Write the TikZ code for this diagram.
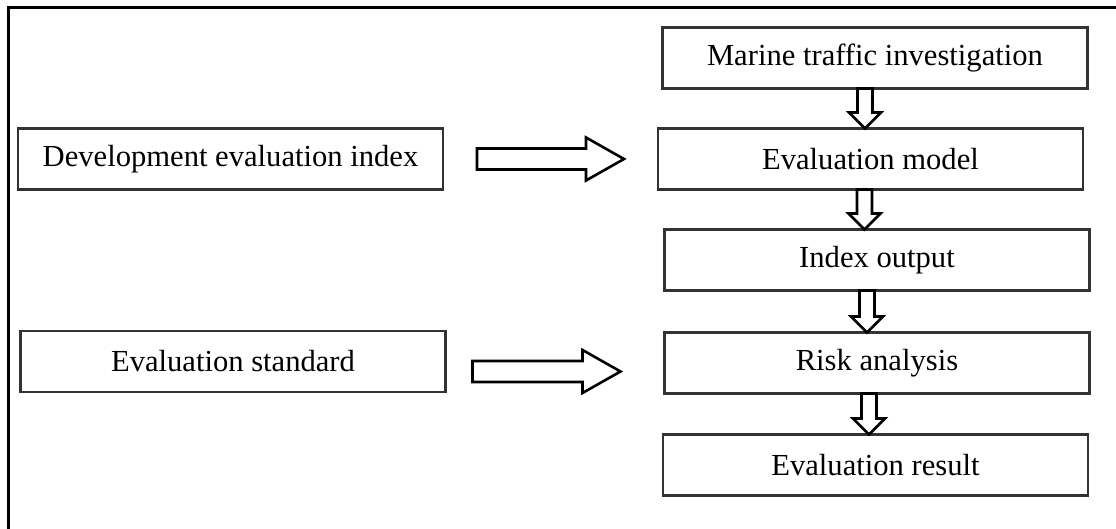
\documentclass[tikz,border=0pt]{standalone}
\usepackage{fontspec}
\setmainfont{Liberation Serif}
\usetikzlibrary{positioning,calc}

\tikzset{
	box/.style={draw=black!80, line width=1.35pt, minimum width=212.5pt, minimum height=30.5pt,
		inner sep=0pt, outer sep=0pt, font=\fontsize{15.3}{18}\selectfont},
	% 横向空心箭头
	hfat/.style={line width=1.3pt, to path={let \p1=(\tikztostart), \p2=(\tikztotarget) in
		(\x1,\y1+5.25pt) -- (\x2-19pt,\y1+5.25pt) -- (\x2-19pt,\y1+10.75pt) -- (\x2,\y1)
		-- (\x2-19pt,\y1-10.75pt) -- (\x2-19pt,\y1-5.25pt) -- (\x1,\y1-5.25pt) -- cycle}},
	% 纵向空心箭头
	vfat/.style={line width=1.3pt, to path={let \p1=(\tikztostart), \p2=(\tikztotarget) in
		(\x1-3.75pt,\y1) -- (\x1-3.75pt,\y2+8pt) -- (\x1-8pt,\y2+8pt) -- (\x1,\y2)
		-- (\x1+8pt,\y2+8pt) -- (\x1+3.75pt,\y2+8pt) -- (\x1+3.75pt,\y1) -- cycle}},
}

\begin{document}
\begin{tikzpicture}[x=0.5pt,y=-0.5pt]
	\useasboundingbox (0,0) rectangle (1116,529);
	% 外框
	\draw[line width=1.35pt] (8.7,540) -- (8.7,7.5) -- (1130,7.5);
	%% left
	\node[box] (dev) at (230.5,159) {Development evaluation index};
	\node[box] (std) at (233,361.5) {Evaluation standard};
	%% right
	\node[box, right=107.5pt of dev] (model) {Evaluation model};
	\node[box, above=20pt of model, xshift=2.25pt] (marine) {Marine traffic investigation};
	\node[box, below=20pt of model, xshift=3.25pt] (index) {Index output};
	\node[box, below=21pt of index] (risk) {Risk analysis};
	\node[box, below=20.5pt of risk, xshift=-0.75pt] (result) {Evaluation result};
	% 箭头连线
	\draw[hfat] ([xshift=17pt]dev.east) to ([xshift=-17pt]model.west);
	\draw[hfat] ([xshift=13.5pt,yshift=-5pt]std.east) to ([xshift=-22pt,yshift=-5pt]risk.west);
	\draw[vfat] ([xshift=-5pt]marine.south) to (model.north);
	\draw[vfat] ([xshift=-3pt]model.south) to (index.north);
	\draw[vfat] ([xshift=-5pt]index.south) to (risk.north);
	\draw[vfat] ([xshift=-4pt]risk.south) to (result.north);
\end{tikzpicture}
\end{document}
